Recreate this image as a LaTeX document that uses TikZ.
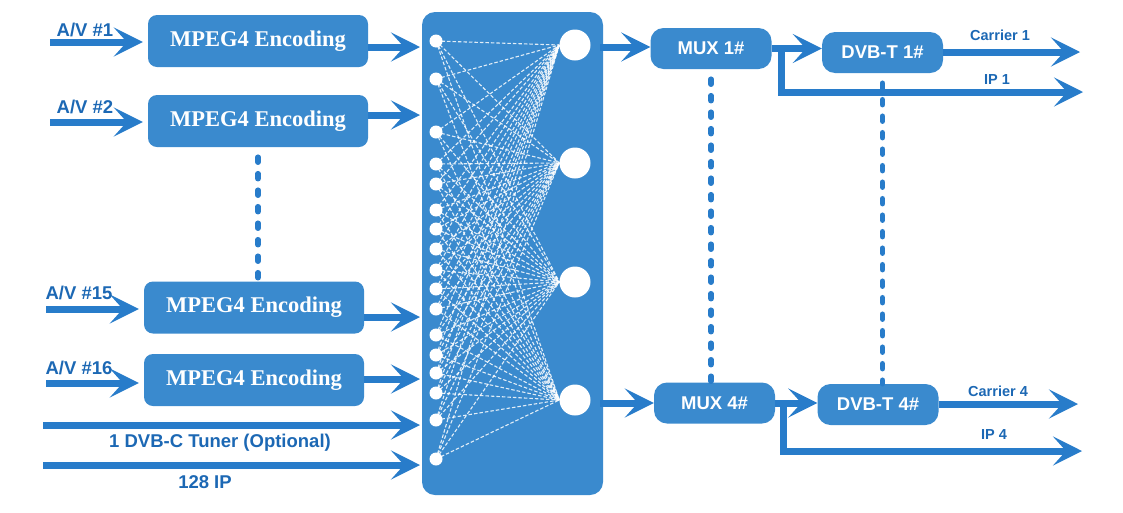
\documentclass[tikz,border=0pt]{standalone}
\usepackage{fontspec}
\setmainfont{Liberation Serif}
\setsansfont{Liberation Sans}
\usetikzlibrary{arrows.meta}

\definecolor{boxc}{RGB}{58,138,206}
\definecolor{arrc}{RGB}{40,124,202}
\definecolor{labc}{RGB}{28,104,180}

\tikzset{
  arr/.style={draw=arrc, line width=7pt, -{Stealth[length=29pt,width=29pt,inset=13pt]}},
  encbox/.style={fill=boxc, rounded corners=9pt, minimum width=220pt, minimum height=52pt,
    text=white, font=\fontsize{22.5}{24}\selectfont\bfseries},
  muxbox/.style={fill=boxc, rounded corners=13pt, minimum width=121pt, minimum height=41pt,
    text=white, font=\fontsize{18.5}{20}\selectfont\sffamily\bfseries},
  lab/.style={text=labc, font=\fontsize{18.5}{20}\selectfont\sffamily\bfseries},
  smalllab/.style={text=labc, font=\fontsize{14.5}{16}\selectfont\sffamily\bfseries},
  dotline/.style={draw=arrc, line width=5.5pt, line cap=round, dash pattern=on 5pt off 11.5pt},
  indot/.style={circle, fill=white, inner sep=0pt, minimum size=13pt},
  outdot/.style={circle, fill=white, inner sep=0pt, minimum size=31pt},
  mesh/.style={draw=white, opacity=0.85, line width=1.1pt, dash pattern=on 3.5pt off 2pt}
}

\begin{document}
\begin{tikzpicture}[x=1pt,y=-1pt]
\useasboundingbox (0,0) rectangle (1123,512);

% encoders
\node[encbox] (enc1) at (258,41) {MPEG4 Encoding};
\node[encbox] (enc2) at (258,121) {MPEG4 Encoding};
\node[encbox] (enc3) at (254,307.5) {MPEG4 Encoding};
\node[encbox] (enc4) at (254,380) {MPEG4 Encoding};

% inputs
\coordinate (in1) at (50,42);
\coordinate (in2) at (50,122);
\coordinate (in3) at (46,309);
\coordinate (in4) at (46,383);
\draw[arr, shorten >=5pt] (in1) -- (in1 -| enc1.west);
\draw[arr, shorten >=5pt] (in2) -- (in2 -| enc2.west);
\draw[arr, shorten >=5pt] (in3) -- (in3 -| enc3.west);
\draw[arr, shorten >=5pt] (in4) -- (in4 -| enc4.west);
\node[lab] (av1) at (85,30) {A/V \#1};
\node[lab] (av2) at (85,107) {A/V \#2};
\node[lab] (av15) at (79,293) {A/V \#15};
\node[lab] (av16) at (79,368) {A/V \#16};

\draw[dotline] ([yshift=-10pt]enc2.south) -- (enc2.south |- enc3.north);

% matrix
\node[fill=boxc, rounded corners=13pt, minimum width=181pt, minimum height=483pt, inner sep=0pt] (mat) at (512.5,253.5) {};

\coordinate (m1) at (420,47);
\coordinate (m2) at (420,115);
\coordinate (m3) at (420,317);
\coordinate (m4) at (420,379);
\coordinate (m5) at (420,425);
\coordinate (m6) at (420,465);
\draw[arr] (enc1.east |- m1) -- (m1);
\draw[arr] (enc2.east |- m2) -- (m2);
\draw[arr] (enc3.east |- m3) -- (m3);
\draw[arr] (enc4.east |- m4) -- (m4);
\coordinate (tuner) at (43,425);
\coordinate (ipin) at (43,465);
\draw[arr] (tuner) -- (m5);
\draw[arr] (ipin) -- (m6);
\node[lab] (tunerlab) at (220,443) {1 DVB-C Tuner (Optional)};
\node[lab] (iplab) at (205,482) {128 IP};

\foreach \y [count=\i] in {41,79,132,164,184,210,229,249,270,289,309,335,355,373,393,420,459}
  \node[indot] (d\i) at (436,\y) {};
\foreach \y [count=\j] in {45,163,282,400}
  \node[outdot] (c\j) at (575,\y) {};
\foreach \i in {1,...,17}
  \foreach \j in {1,...,4}
    \draw[mesh] (d\i.center) -- (c\j.west);

% mux and modulators
\node[muxbox] (mux1) at (711,48.5) {MUX 1\#};
\node[muxbox] (mux4) at (714.5,403) {MUX 4\#};
\node[muxbox] (dvb1) at (882.5,52.5) {DVB-T 1\#};
\node[muxbox] (dvb4) at (878,404.5) {DVB-T 4\#};

\coordinate (o1) at (600,47);
\coordinate (o4) at (600,403);
\draw[arr] (o1) -- (o1 -| mux1.west);
\draw[arr] (o4) -- (o4 -| mux4.west);
\draw[arr] (mux1.east) -- (mux1.east -| dvb1.west);
\draw[arr] (mux4.east) -- (mux4.east -| dvb4.west);

\coordinate (car1) at (1080,52);
\coordinate (car4) at (1078,404);
\coordinate (ip1) at (1083,92);
\coordinate (ip4) at (1082,451);
\draw[arr] (dvb1.east |- car1) -- (car1);
\draw[arr] (dvb4.east |- car4) -- (car4);
\draw[arr] ([xshift=10pt]mux1.east) |- (ip1);
\draw[arr] ([xshift=8pt]mux4.east) |- (ip4);
\node[smalllab] (car1lab) at (1000,35) {Carrier 1};
\node[smalllab] (ip1lab) at (997,80) {IP 1};
\node[smalllab] (car4lab) at (998,391) {Carrier 4};
\node[smalllab] (ip4lab) at (994,435) {IP 4};

\draw[dotline] ([yshift=-10pt]mux1.south) -- (mux1.south |- mux4.north);
\draw[dotline] ([yshift=-10pt]dvb1.south) -- (dvb1.south |- dvb4.north);
\end{tikzpicture}
\end{document}
